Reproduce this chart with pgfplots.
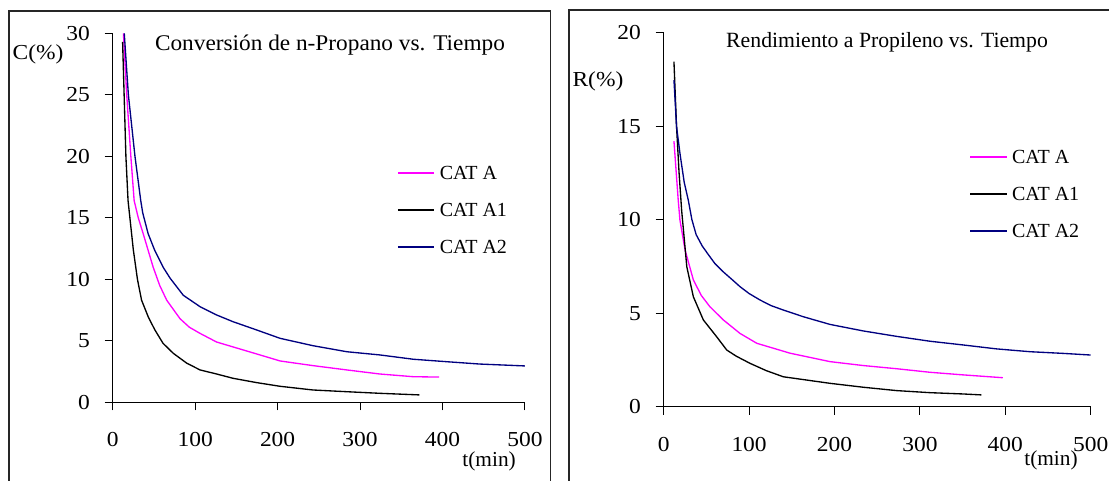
\documentclass[border=0pt]{standalone}
\usepackage{pgfplots}
\pgfplotsset{compat=1.18}
\usepackage{fontspec}
\setmainfont{Liberation Serif}[FakeStretch=1.1]
\newfontfamily\legfont{Liberation Serif}
\newfontfamily\titlefont{Liberation Serif}[FakeStretch=1.04]

\definecolor{catA}{RGB}{255,0,255}
\definecolor{catAone}{RGB}{0,0,0}
\definecolor{catAtwo}{RGB}{0,0,128}

\pgfplotsset{
  panel/.style={
    scale only axis,
    axis lines=left,
    axis line style={-, line width=0.75pt, black},
    enlargelimits=false,
    xmin=0, xmax=500, ymin=0,
    xtick={0,100,...,500},
    tick align=outside,
    major tick length=6pt,
    tick style={black, line width=0.75pt},
    /pgf/number format/assume math mode=true,
    tick label style={font=\fontsize{16}{19}\selectfont},
    xticklabel style={anchor=center, inner sep=0pt},
    yticklabel style={anchor=east, inner sep=0pt},
    label style={font=\fontsize{16}{19}\selectfont},
    xlabel style={font=\legfont\fontsize{16}{19}\selectfont},
    title style={font=\titlefont\fontsize{16.8}{19}\selectfont, anchor=center},
    legend style={draw=none, fill=none, inner sep=0pt, anchor=north west,
      row sep=17.75pt, column sep=0pt,
      font=\legfont\fontsize{15}{18}\selectfont,
      nodes={inner sep=0pt, text height=10pt, text depth=0pt}},
    legend cell align=left,
    legend image code/.code={\draw[#1, line width=1.1pt] (0pt,0pt) -- (27.5pt,0pt);
      \path (31pt,0pt);},
    every axis plot/.append style={line width=1pt, no marks},
  },
}

\begin{document}
\begin{tikzpicture}
\useasboundingbox (0,0) rectangle (831.75pt,360.75pt);
% panel frames
\draw[black!85, line width=1pt] (6.75pt,-7.5pt) rectangle (412.9pt,352.5pt);
\draw[black!85, line width=1pt] (426.75pt,-7.5pt) rectangle (840pt,353.25pt);

% conversion of n-propane
\begin{axis}[panel,
  at={(84.53pt,59.03pt)}, anchor=south west,
  width=309.2pt, height=276.75pt,
  ymax=30, ytick={0,5,...,30},
  xticklabel shift=22pt,
  yticklabel shift=11pt,
  title={Conversión de n-Propano vs. Tiempo},
  title style={at={(axis description cs:0.527,0.947)}},
  xlabel={t(min)},
  xlabel style={at={(axis description cs:0.913,-0.161)}, anchor=center},
  ylabel={C(\%)},
  ylabel style={at={(axis description cs:-0.181,0.944)}, anchor=center, rotate=-90},
  legend style={at={(axis description cs:0.689,0.6405)}},
]
\addplot[color=catA] coordinates {
 (13,30) (17,25) (22,20) (26,16.4) (31,15.0) (37,13.7) (49,11.0) (57,9.5)
 (65.5,8.3) (81.6,6.8) (93,6.1) (106,5.6) (126,4.9) (146,4.5) (174.6,3.93)
 (203,3.36) (243,2.98) (284,2.63) (324,2.3) (364.5,2.08) (396,2.05)};
\addlegendentry{CAT A}
\addplot[color=catAone] coordinates {
 (12,29.3) (16,20) (18.6,16.4) (25,12.4) (30,10.0) (35,8.3) (43,6.96) (51,5.9)
 (61,4.8) (73.5,3.98) (90,3.17) (106,2.63) (126,2.3) (146,1.95) (174.6,1.6)
 (203,1.3) (243,1.0) (284,0.86) (324,0.73) (372,0.6)};
\addlegendentry{CAT A1}
\addplot[color=catAtwo] coordinates {
 (14,30) (19,25) (27,20) (34,16.4) (36.4,15.4) (43,13.7) (51,12.35) (61,11.0)
 (69.5,10.1) (85.6,8.7) (106,7.77) (126,7.1) (146,6.55) (174.6,5.88) (203,5.2)
 (243,4.6) (284,4.11) (324,3.85) (364.5,3.5) (405,3.3) (445,3.11) (502,2.95)};
\addlegendentry{CAT A2}
\end{axis}

% propylene yield
\begin{axis}[panel,
  at={(497.78pt,55.73pt)}, anchor=south west,
  width=320.25pt, height=280.5pt,
  ymax=20, ytick={0,5,...,20},
  xticklabel shift=22pt,
  yticklabel shift=11pt,
  title={Rendimiento a Propileno vs. Tiempo},
  title style={at={(axis description cs:0.523,0.954)}, font=\legfont\fontsize{16.3}{19}\selectfont},
  xlabel={t(min)},
  xlabel style={at={(axis description cs:0.907,-0.1425)}, anchor=center},
  ylabel={R(\%)},
  ylabel style={at={(axis description cs:-0.154,0.869)}, anchor=center, rotate=-90},
  legend style={at={(axis description cs:0.715,0.686)}},
]
\addplot[color=catA] coordinates {
 (12,14.2) (15,12.3) (17,11.04) (19,9.98) (25,8.38) (34.7,6.78) (44,5.95)
 (54,5.35) (69.8,4.64) (89.3,3.92) (109,3.39) (148,2.86) (194.7,2.41)
 (233.7,2.2) (272.8,2.03) (311.8,1.84) (350.8,1.7) (397,1.55)};
\addlegendentry{CAT A}
\addplot[color=catAone] coordinates {
 (12,18.45) (15,15) (18,12.5) (21,10.5) (24,9.0) (27,7.49) (34.7,5.88) (46.4,4.64)
 (62,3.74) (73.8,3.03) (85,2.7) (101,2.32) (120,1.93) (140,1.6) (194.7,1.25)
 (233.7,1.04) (272.8,0.86) (311.8,0.75) (350.8,0.68) (372,0.63)};
\addlegendentry{CAT A1}
\addplot[color=catAtwo] coordinates {
 (12,17.47) (15,15) (19,13.55) (24,12.0) (28.8,11.04) (33,10.0) (38,9.2) (45,8.6)
 (52,8.15) (60,7.65) (70,7.2) (80,6.8) (89.3,6.42) (100,6.05) (113,5.7) (126,5.4)
 (140,5.17) (163.5,4.81) (194.7,4.4) (233.7,4.05) (272.8,3.76) (311.8,3.5)
 (350.8,3.3) (390,3.09) (429,2.94) (468,2.85) (501,2.76)};
\addlegendentry{CAT A2}
\end{axis}
\end{tikzpicture}
\end{document}
